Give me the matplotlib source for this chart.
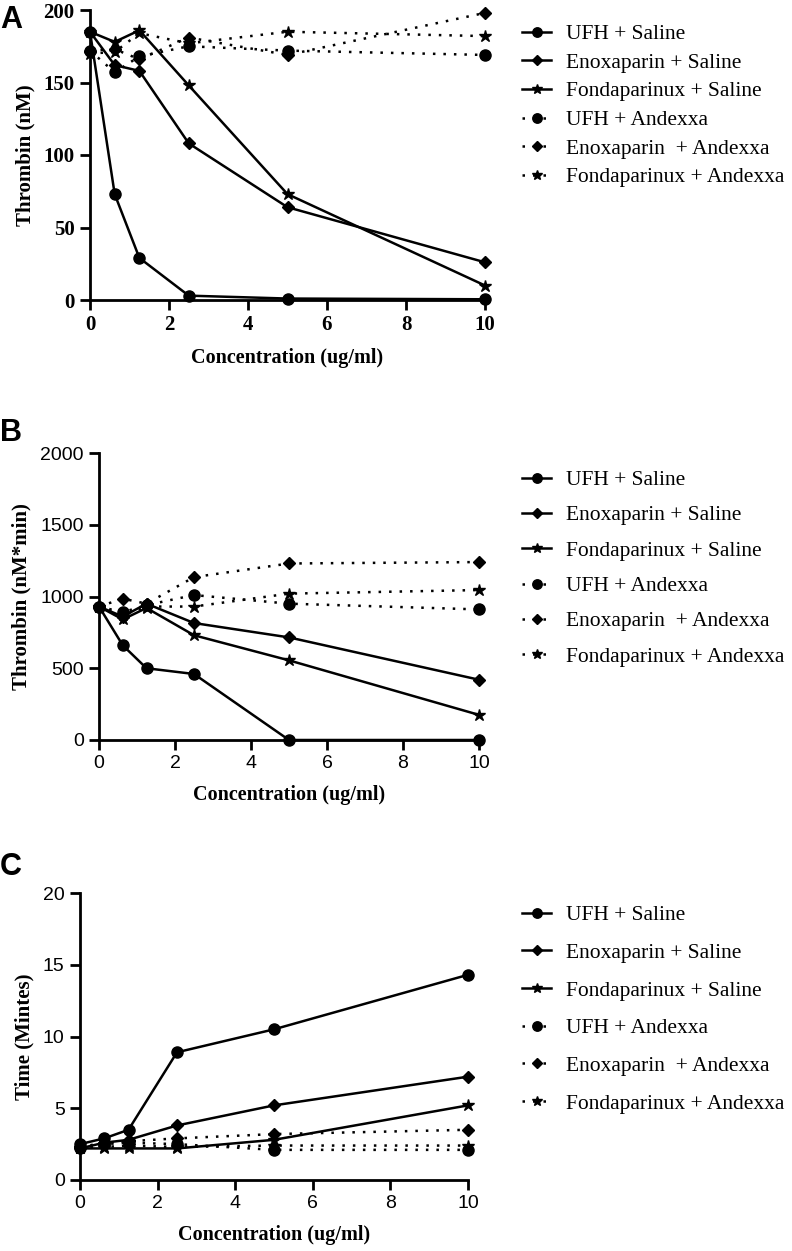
import numpy as np
import matplotlib
matplotlib.use("Agg")
import matplotlib.pyplot as plt
from matplotlib.lines import Line2D

# concentrations (ug/ml)
conc = [0, 0.625, 1.25, 2.5, 5, 10]

labels = ["UFH + Saline", "Enoxaparin + Saline", "Fondaparinux + Saline",
          "UFH + Andexxa", "Enoxaparin  + Andexxa", "Fondaparinux + Andexxa"]

# panel A: peak thrombin (nM)
a_ufh_sal = [185, 73, 29, 3, 1, 0.5]
a_enox_sal = [185, 162, 158, 108, 64, 26]
a_fonda_sal = [185, 178, 186, 148, 73, 10]
a_ufh_andx = [172, 157, 168, 175, 172, 169]
a_enox_andx = [172, 173, 166, 181, 169, 198]
a_fonda_andx = [170, 171, 184, 177, 185, 182]

# panel B: thrombin (nM*min)
b_ufh_sal = [930, 660, 500, 460, 0, 0]
b_enox_sal = [930, 860, 950, 815, 715, 420]
b_fonda_sal = [930, 840, 920, 730, 555, 175]
b_ufh_andx = [930, 890, 940, 1010, 950, 910]
b_enox_andx = [930, 985, 950, 1135, 1230, 1240]
b_fonda_andx = [930, 870, 930, 930, 1020, 1045]

# panel C: time (minutes)
c_ufh_sal = [2.5, 2.9, 3.5, 8.9, 10.5, 14.3]
c_enox_sal = [2.2, 2.6, 2.8, 3.8, 5.2, 7.2]
c_fonda_sal = [2.2, 2.2, 2.2, 2.2, 2.8, 5.2]
c_ufh_andx = [2.2, 2.5, 2.6, 2.5, 2.1, 2.1]
c_enox_andx = [2.3, 2.6, 2.7, 2.9, 3.2, 3.5]
c_fonda_andx = [2.2, 2.3, 2.4, 2.3, 2.4, 2.4]

markers = ["o", "D", "*", "o", "D", "*"]
msizes = [8, 6, 9, 8, 6, 9]
styles = ["-", "-", "-", (0, (1, 3.2)), (0, (1, 3.2)), (0, (1, 3.2))]

serif = "Liberation Serif"
sans = "Liberation Sans"
H = 1251.0

fig = plt.figure(figsize=(7.92, 12.51), dpi=100)


def panel(rect, series, ymax, ystep, ylabel, tickfont, tickbold, letter, letter_y, leg_top, leg_space):
    ax = fig.add_axes(rect)
    for s, m, ms, ls in zip(series, markers, msizes, styles):
        ax.plot(conc, s, color="black", lw=1.8, ls=ls, marker=m, ms=ms, clip_on=False, zorder=3)
    ax.set_xlim(0, 10)
    ax.set_ylim(0, ymax)
    ax.set_xticks(np.arange(0, 11, 2))
    ax.set_yticks(np.arange(0, ymax + 1, ystep))
    for sp in ["top", "right"]:
        ax.spines[sp].set_visible(False)
    for sp in ["left", "bottom"]:
        ax.spines[sp].set_linewidth(2)
    ax.tick_params(direction="out", length=7, width=2, pad=4)
    for t in ax.get_xticklabels() + ax.get_yticklabels():
        t.set_fontfamily(tickfont)
        t.set_fontsize(15 if tickbold else 14)
        t.set_fontweight("bold" if tickbold else "normal")
    ax.set_xlabel("Concentration (ug/ml)", family=serif, weight="bold", size=14.5, labelpad=9)
    ax.set_ylabel(ylabel, family=serif, weight="bold", size=15, labelpad=6)
    fig.text(0.0, 1 - letter_y / H, letter, family=sans, weight="bold", size=22, va="center")
    handles = [Line2D([], [], color="black", lw=1.8, ls=ls, marker=m, ms=ms * 0.85)
               for m, ms, ls in zip(markers, msizes, styles)]
    fig.legend(handles, labels, loc="upper left", bbox_to_anchor=(522 / 792, 1 - leg_top / H),
               frameon=False, prop={"family": serif, "size": 15.5},
               borderpad=0, borderaxespad=0,
               handlelength=1.35, handletextpad=0.7, labelspacing=leg_space)
    return ax


panel([90 / 792, 1 - 300 / H, 395 / 792, 290 / H],
      [a_ufh_sal, a_enox_sal, a_fonda_sal, a_ufh_andx, a_enox_andx, a_fonda_andx],
      200, 50, "Thrombin (nM)", serif, True, "A", 20, 24, 0.4)

panel([99 / 792, 1 - 740 / H, 380 / 792, 287 / H],
      [b_ufh_sal, b_enox_sal, b_fonda_sal, b_ufh_andx, b_enox_andx, b_fonda_andx],
      2000, 500, "Thrombin (nM*min)", sans, False, "B", 433, 470, 0.71)

panel([80 / 792, 1 - 1180 / H, 388 / 792, 287 / H],
      [c_ufh_sal, c_enox_sal, c_fonda_sal, c_ufh_andx, c_enox_andx, c_fonda_andx],
      20, 5, "Time (Mintes)", sans, False, "C", 867, 905, 0.82)

fig.savefig("out.png", dpi=100)
